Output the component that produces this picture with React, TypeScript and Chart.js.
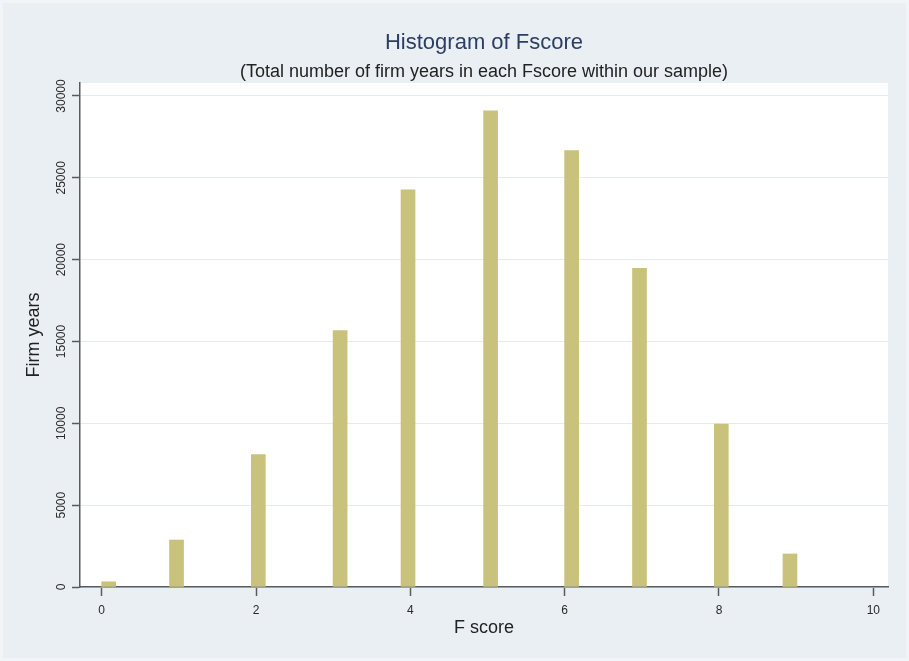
import React, { useEffect, useRef } from "react";
import { Chart, registerables } from "chart.js";

Chart.register(...registerables);

const TITLE = "Histogram of Fscore";
const SUBTITLE = "(Total number of firm years in each Fscore within our sample)";
const X_TITLE = "F score";
const Y_TITLE = "Firm years";

// Histogram bin centres (F score axis) and bar heights (firm years)
const binCenters = [0.09, 0.97, 2.03, 3.09, 3.97, 5.04, 6.09, 6.97, 8.03, 8.92];
const firmYears = [320, 2870, 8090, 15660, 24260, 29100, 26660, 19470, 9960, 2020];

const xTickValues = [0, 2, 4, 6, 8, 10];
const yTickValues = [0, 5000, 10000, 15000, 20000, 25000, 30000];

const FONT = "'Liberation Sans', Arial, sans-serif";
const BG = "#e9eff2";
const OUTER = "#f2f5f7";
const GRID = "#e3ebef";
const AXIS = "#555b60";
const BAR = "#c9c27c";
const TEXT = "#222222";
const TICK_TEXT = "#2a2a2a";
const TITLE_COLOR = "#2c3e62";

export default function App() {
  const ref = useRef<HTMLCanvasElement | null>(null);

  useEffect(() => {
    const canvas = ref.current;
    if (!canvas) return;

    const bgPlugin = {
      id: "bgPlugin",
      beforeDraw(chart: any) {
        const { ctx, chartArea: a } = chart;
        ctx.save();
        ctx.fillStyle = OUTER;
        ctx.fillRect(0, 0, chart.width, chart.height);
        ctx.fillStyle = BG;
        ctx.fillRect(3, 3, chart.width - 6, chart.height - 6);
        ctx.fillStyle = "#ffffff";
        ctx.fillRect(a.left, a.top, a.right - a.left, a.bottom - a.top);
        ctx.restore();
      },
    };

    const textPlugin = {
      id: "textPlugin",
      afterDraw(chart: any) {
        const { ctx, chartArea: a } = chart;
        const cx = (a.left + a.right) / 2;
        ctx.save();
        ctx.textAlign = "center";
        ctx.textBaseline = "middle";
        ctx.fillStyle = TITLE_COLOR;
        ctx.font = `22px ${FONT}`;
        ctx.fillText(TITLE, cx, 43);
        ctx.fillStyle = TEXT;
        ctx.font = `18px ${FONT}`;
        ctx.fillText(SUBTITLE, cx, 72);

        // rotated y tick labels
        const ys = chart.scales.y;
        ctx.font = `12px ${FONT}`;
        ctx.fillStyle = TICK_TEXT;
        ctx.textBaseline = "alphabetic";
        ys.ticks.forEach((t: any) => {
          const py = ys.getPixelForValue(t.value);
          ctx.save();
          ctx.translate(65, py);
          ctx.rotate(-Math.PI / 2);
          ctx.fillText(String(t.value), 0, 0);
          ctx.restore();
        });
        ctx.restore();
      },
    };

    const chart = new Chart(canvas, {
      type: "bar",
      data: {
        datasets: [
          {
            data: binCenters.map((x, i) => ({ x, y: firmYears[i] })),
            backgroundColor: BAR,
            borderWidth: 0,
            barThickness: 14,
          },
        ],
      },
      options: {
        animation: false,
        responsive: false,
        layout: { padding: { top: 83, right: 21, left: 0, bottom: 0 } },
        plugins: {
          legend: { display: false },
          tooltip: { enabled: false },
          title: { display: false },
        },
        scales: {
          x: {
            type: "linear",
            offset: false,
            min: -0.2812,
            max: 10.1905,
            afterBuildTicks: (s: any) => {
              s.ticks = xTickValues.map((v) => ({ value: v }));
            },
            afterFit: (s: any) => {
              s.height = 74;
            },
            ticks: {
              padding: 7,
              color: TICK_TEXT,
              font: { family: FONT, size: 12 },
              maxRotation: 0,
              minRotation: 0,
            },
            grid: {
              offset: false,
              drawOnChartArea: false,
              tickLength: 9,
              tickColor: AXIS,
              tickWidth: 1.5,
            },
            border: { display: true, color: AXIS, width: 1.5 },
            title: {
              display: true,
              text: X_TITLE,
              color: TEXT,
              font: { family: FONT, size: 18 },
              padding: { top: 0, bottom: 22 },
            },
          },
          y: {
            type: "linear",
            min: 0,
            max: 30794,
            afterBuildTicks: (s: any) => {
              s.ticks = yTickValues.map((v) => ({ value: v }));
            },
            afterFit: (s: any) => {
              s.width = 80;
            },
            ticks: { display: false },
            grid: {
              color: GRID,
              lineWidth: 1,
              tickLength: 8,
              tickColor: AXIS,
              tickWidth: 1.5,
            },
            border: { display: true, color: AXIS, width: 1.5 },
            title: {
              display: true,
              text: Y_TITLE,
              color: TEXT,
              font: { family: FONT, size: 18 },
              padding: { top: 23, bottom: 0 },
            },
          },
        },
      },
      plugins: [bgPlugin, textPlugin],
    } as any);

    return () => chart.destroy();
  }, []);

  return (
    <div style={{ position: "fixed", left: 0, top: 0, width: 909, height: 661 }}>
      <canvas ref={ref} width={909} height={661} style={{ display: "block" }} />
    </div>
  );
}
